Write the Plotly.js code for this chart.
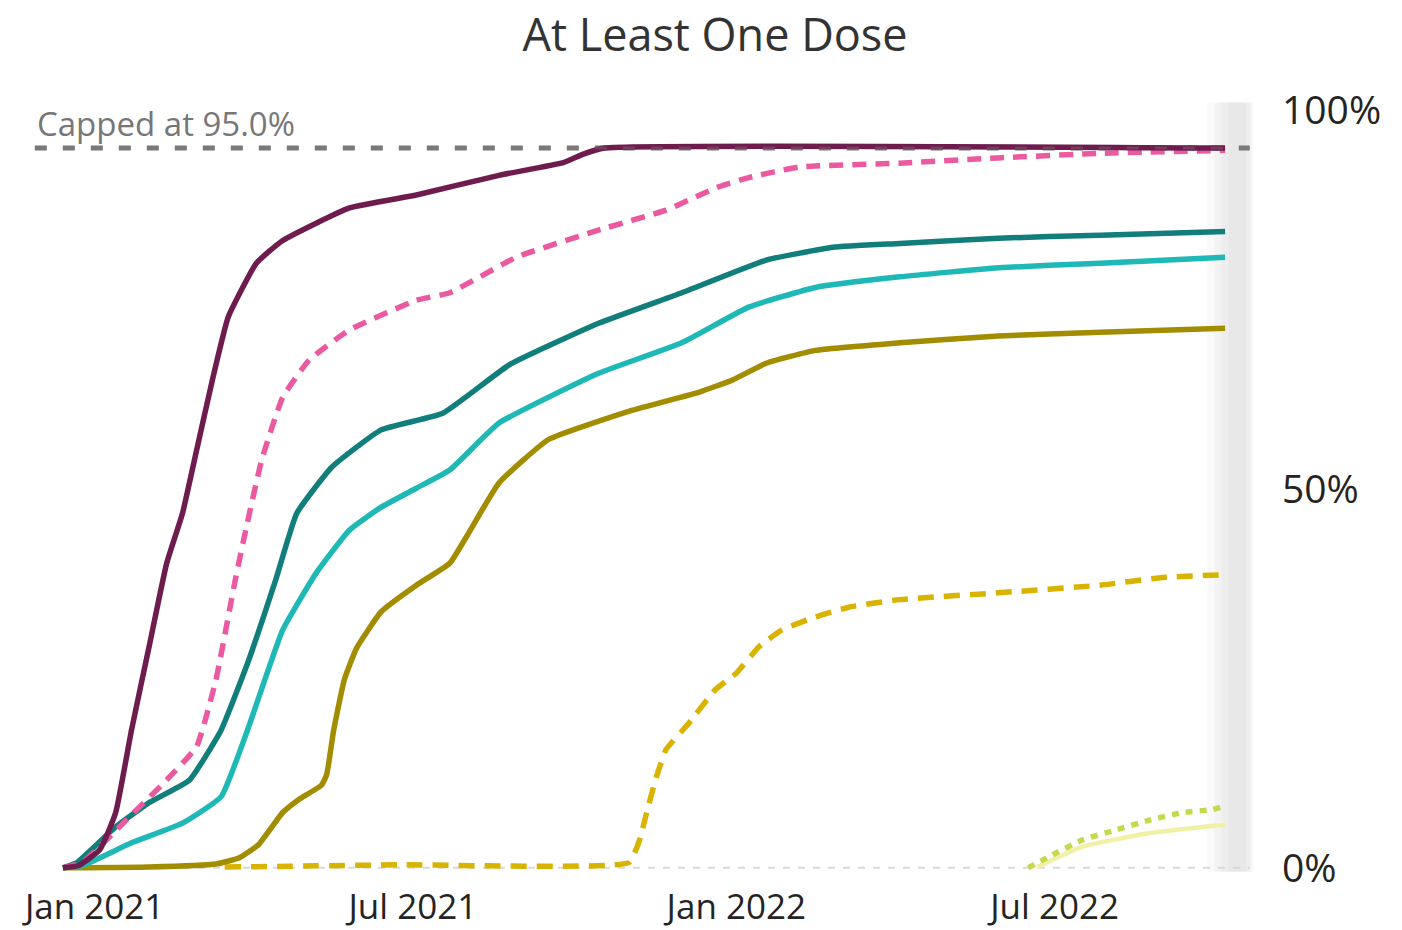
<!DOCTYPE html>
<html>
<head>
<meta charset="utf-8">
<script src="https://cdn.plot.ly/plotly-3.0.1.min.js"></script>
<style>
  html, body { margin: 0; padding: 0; background: #ffffff; }
  #chart { width: 1402px; height: 930px; }
</style>
</head>
<body>
<div id="chart"></div>
<script>
// Cumulative share with at least one dose, by group (percent)
const plumDates = ['2020-12-14','2020-12-23','2021-01-04','2021-01-13','2021-01-22','2021-02-01','2021-02-11','2021-02-20','2021-02-28','2021-03-09','2021-03-18','2021-04-03','2021-04-18','2021-05-26','2021-07-03','2021-08-19','2021-09-25','2021-10-06','2021-10-18','2022-10-06'];
const plumValues = [0, 0.3, 2.4, 7.3, 18.2, 29.2, 40.2, 46.8, 55.1, 64.4, 72.7, 79.8, 82.8, 87.1, 88.8, 91.4, 93.1, 94.2, 95.0, 95.0];

const pinkDates = ['2020-12-14','2020-12-25','2021-01-19','2021-02-11','2021-02-28','2021-03-11','2021-03-22','2021-03-28','2021-04-06','2021-04-18','2021-05-03','2021-05-26','2021-07-03','2021-07-22','2021-08-29','2021-10-15','2021-11-22','2021-12-21','2022-01-08','2022-02-06','2022-04-04','2022-05-30','2022-07-27','2022-10-06'];
const pinkValues = [0, 0.7, 6.3, 11.6, 16.0, 24.8, 38.0, 44.6, 53.8, 62.1, 67.0, 71.0, 74.9, 75.9, 80.6, 84.2, 86.8, 89.8, 91.1, 92.5, 93.0, 93.7, 94.3, 94.7];

const tealDates = ['2020-12-14','2020-12-22','2021-01-13','2021-02-01','2021-02-24','2021-03-14','2021-03-29','2021-04-14','2021-04-26','2021-05-16','2021-06-13','2021-07-18','2021-08-25','2021-10-15','2021-12-01','2022-01-18','2022-02-25','2022-04-04','2022-05-30','2022-07-27','2022-10-06'];
const tealValues = [0, 0.7, 5.4, 8.6, 11.6, 18.2, 27.0, 38.0, 46.8, 52.9, 57.8, 60.0, 66.4, 71.9, 75.9, 80.2, 81.9, 82.4, 83.1, 83.5, 84.0];

const aquaDates = ['2020-12-14','2020-12-25','2021-01-22','2021-02-20','2021-03-14','2021-03-29','2021-04-18','2021-05-07','2021-05-26','2021-06-13','2021-07-03','2021-07-22','2021-08-19','2021-10-15','2021-12-01','2022-01-08','2022-02-15','2022-04-04','2022-05-30','2022-07-27','2022-10-06'];
const aquaValues = [0, 0.3, 3.3, 5.9, 9.4, 18.2, 31.4, 38.9, 44.6, 47.6, 50.1, 52.5, 58.7, 65.3, 69.3, 74.0, 76.6, 78.0, 79.2, 79.8, 80.6];

const oliveDates = ['2020-12-14','2021-02-01','2021-03-11','2021-03-24','2021-04-04','2021-04-18','2021-04-27','2021-05-10','2021-05-13','2021-05-17','2021-05-23','2021-05-30','2021-06-13','2021-07-03','2021-07-22','2021-08-01','2021-08-19','2021-09-16','2021-11-03','2021-12-11','2021-12-30','2022-01-18','2022-02-15','2022-04-04','2022-05-30','2022-07-27','2022-10-06'];
const oliveValues = [0, 0.1, 0.5, 1.3, 3.0, 7.3, 9.0, 10.9, 12.3, 18.2, 24.8, 29.0, 33.8, 37.3, 40.2, 43.9, 50.8, 56.5, 60.4, 62.8, 64.4, 66.6, 68.3, 69.3, 70.2, 70.7, 71.2];

const goldDates = ['2021-03-16','2021-06-23','2021-11-01','2021-11-07','2021-11-11','2021-11-16','2021-11-22','2021-12-05','2021-12-20','2022-01-01','2022-01-14','2022-01-27','2022-02-15','2022-03-06','2022-04-04','2022-05-30','2022-07-27','2022-08-30','2022-10-06'];
const goldValues = [0.1, 0.4, 0.7, 3.7, 7.3, 11.6, 15.6, 19.1, 23.5, 25.7, 29.2, 31.4, 33.1, 34.4, 35.4, 36.3, 37.3, 38.3, 38.7];

const limeDates = ['2022-06-16','2022-06-28','2022-07-17','2022-08-05','2022-08-24','2022-09-12','2022-09-29','2022-10-06'];
const limeValues = [0, 1.5, 3.7, 5.0, 6.3, 7.3, 7.7, 8.2];

const paleDates = ['2022-06-21','2022-07-17','2022-08-24','2022-10-06'];
const paleValues = [0.1, 2.8, 4.6, 5.7];

// Cap reference line and date span of the reference rules
const CAP = 95;
const capLabel = 'Capped at 95.0%';
const ruleStart = '2020-11-28';
const ruleEnd = '2022-10-20';
const zeroStart = '2020-12-14';

// Soft shaded strip at the right edge: [start, end, opacity] layers
const bandLayers = [
  ['2022-09-26', '2022-10-22', 0.10],
  ['2022-09-30', '2022-10-21', 0.10],
  ['2022-10-04', '2022-10-20', 0.12],
  ['2022-10-08', '2022-10-18', 0.10]
];

const tickDates = ['2021-01-01','2021-07-01','2022-01-01','2022-07-01'];
const tickLabels = ['Jan 2021','Jul 2021','Jan 2022','Jul 2022'];
const yTicks = [0, 50, 100];
const yTickLabels = ['0%', '50%', '100%'];

const FONT = 'Segoe UI, Open Sans, sans-serif';

function line(x, y, color, dash, width) {
  return {
    type: 'scatter', mode: 'lines', x: x, y: y,
    line: { color: color, width: width || 5.5, dash: dash || 'solid', shape: 'spline', smoothing: 0.4 },
    hoverinfo: 'skip', showlegend: false
  };
}

const traces = [
  line(paleDates, paleValues, '#f1f0a6', 'solid', 4.5),
  line(limeDates, limeValues, '#c6d84c', '7px,7px', 5.5),
  line(goldDates, goldValues, '#d8b300', '16px,10px', 5.5),
  line(oliveDates, oliveValues, '#a28c00'),
  line(aquaDates, aquaValues, '#1eb8b6'),
  line(tealDates, tealValues, '#117e7c'),
  line(pinkDates, pinkValues, '#ea5aa0', '14px,9px'),
  line(plumDates, plumValues, '#6e1b4e')
];

const shapes = bandLayers.map(b => ({
  type: 'rect', layer: 'below', xref: 'x', yref: 'y', x0: b[0], x1: b[1], y0: -0.5, y1: 101,
  line: { width: 0 }, fillcolor: 'rgba(200,200,200,' + b[2] + ')'
}));
shapes.push(
  { type: 'line', layer: 'below', xref: 'x', yref: 'y', x0: zeroStart, x1: ruleEnd, y0: 0, y1: 0,
    line: { color: '#d9d9d9', width: 2, dash: '7px,8px' } },
  { type: 'line', layer: 'below', xref: 'x', yref: 'y', x0: ruleStart, x1: ruleEnd, y0: CAP, y1: CAP,
    line: { color: '#777777', width: 5, dash: '12px,16px' } },
  { type: 'line', layer: 'above', xref: 'x', yref: 'y', x0: ruleStart, x1: ruleEnd, y0: CAP, y1: CAP,
    line: { color: 'rgba(130,130,130,0.35)', width: 3, dash: '12px,16px' } }
);

const layout = {
  width: 1402, height: 930,
  paper_bgcolor: '#ffffff', plot_bgcolor: '#ffffff',
  margin: { l: 19, r: 147, t: 95, b: 47 },
  font: { family: FONT, color: '#252423' },
  title: {
    text: 'At Least One Dose',
    font: { family: FONT, size: 45, color: '#333333' },
    x: 0.51, xanchor: 'center', y: 0.962, yanchor: 'middle'
  },
  xaxis: {
    type: 'date',
    range: ['2020-11-19', '2022-10-23'],
    tickmode: 'array', tickvals: tickDates, ticktext: tickLabels,
    showgrid: false, zeroline: false, showline: false, ticks: '',
    tickfont: { family: FONT, size: 35, color: '#252423' },
    ticklabelstandoff: 0,
    fixedrange: true
  },
  yaxis: {
    range: [-2, 102],
    side: 'right',
    tickmode: 'array', tickvals: yTicks, ticktext: yTickLabels,
    showgrid: false, zeroline: false, showline: false, ticks: '',
    tickfont: { family: FONT, size: 39, color: '#252423' },
    ticklabelstandoff: 26,
    fixedrange: true
  },
  shapes: shapes,
  annotations: [
    { xref: 'x', yref: 'y', x: ruleStart, y: CAP, xanchor: 'left', yanchor: 'bottom', yshift: 0,
      text: capLabel, showarrow: false,
      font: { family: FONT, size: 33, color: '#777777' } }
  ]
};

Plotly.newPlot('chart', traces, layout, { displayModeBar: false, staticPlot: true });
</script>
</body>
</html>
